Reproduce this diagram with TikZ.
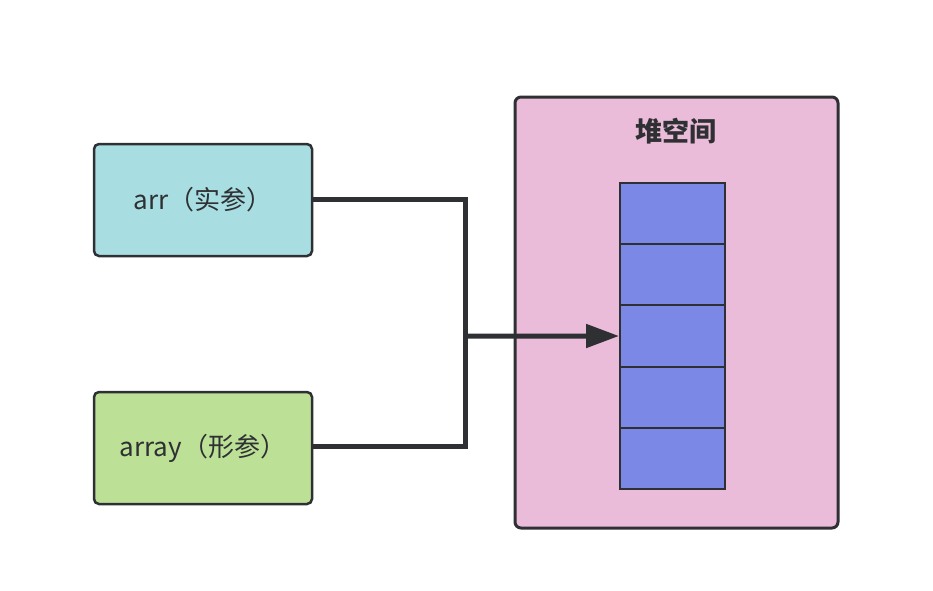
\documentclass[tikz,border=0pt]{standalone}
\usepackage{fontspec}
\setmainfont{Noto Sans CJK SC}
\usetikzlibrary{arrows.meta}
\definecolor{lineC}{HTML}{2E3033}
\definecolor{arrFill}{HTML}{A8DEE1}
\definecolor{arrayFill}{HTML}{BDE097}
\definecolor{heapFill}{HTML}{EBBCD9}
\definecolor{cellFill}{HTML}{7C88E6}
\tikzset{
  x=1pt, y=-1pt,
  varbox/.style={draw=lineC, line width=2.5pt, rounded corners=5pt, minimum width=218pt, minimum height=112pt, inner sep=0pt, font=\fontsize{26}{31}\selectfont, text=lineC},
  heapbox/.style={draw=lineC, line width=3pt, rounded corners=6pt, fill=heapFill, minimum width=323pt, minimum height=431pt, inner sep=0pt},
  cell/.style={draw=lineC, line width=2pt, fill=cellFill, minimum width=105pt, minimum height=61.2pt, inner sep=0pt},
  wire/.style={draw=lineC, line width=5pt, line join=miter},
  tip/.style={-{Triangle[length=33pt,width=23pt]}}
}
\begin{document}
\begin{tikzpicture}
\useasboundingbox (0,0) rectangle (933,590);
\node[heapbox] (heap) at (676.5,312.5) {};
\node[font=\bfseries\fontsize{27}{32}\selectfont, text=lineC] (title) at (676,131) {堆空间};
\foreach \i in {1,...,5} {
  \node[cell] (c\i) at (672.5,{183+61.2*(\i-0.5)}) {};
}
\node[varbox, fill=arrFill] (arr) at (203,200) {arr（实参）};
\node[varbox, fill=arrayFill] (array) at (203,448) {array（形参）};
\coordinate (jx) at (465,336);
\draw[wire] (arr.east |- 0,199) -| (jx) |- (array.east |- 0,446);
\draw[wire, tip] (jx) -- (c3.west);
\end{tikzpicture}
\end{document}
